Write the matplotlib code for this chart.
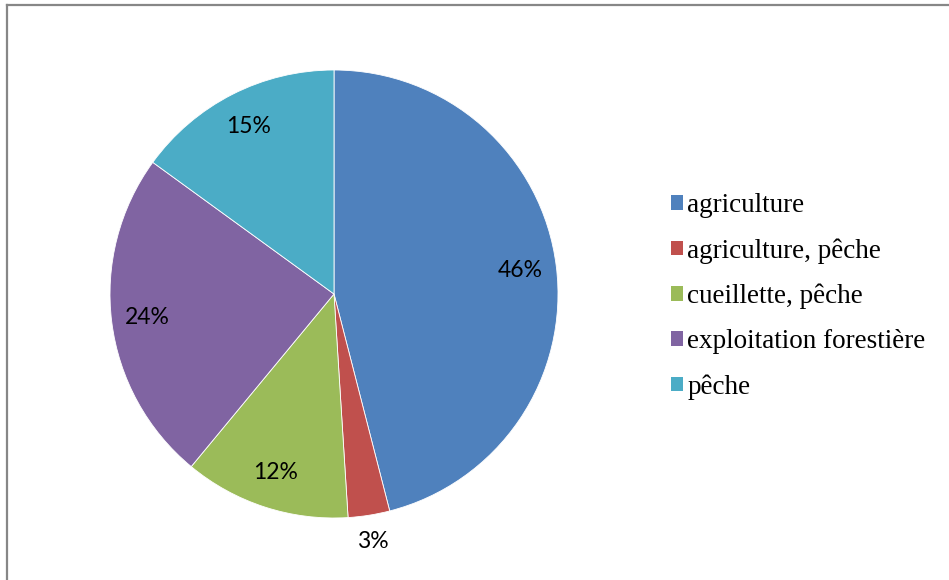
import matplotlib
matplotlib.use("Agg")
import matplotlib.pyplot as plt
from matplotlib.patches import Patch
from matplotlib.lines import Line2D
import numpy as np

categories = ["agriculture", "agriculture, pêche", "cueillette, pêche",
              "exploitation forestière", "pêche"]
shares = [46, 3, 12, 24, 15]
colors = ["#4F81BD", "#C0504D", "#9BBB59", "#8064A2", "#4BACC6"]

W, H = 949, 580
fig = plt.figure(figsize=(W / 100, H / 100), dpi=100)

# chart frame: only top and left edges fall inside the image
fig.add_artist(Line2D([6.5 / W, 6.5 / W], [0, 1 - 4.5 / H], transform=fig.transFigure,
                      color="#878787", lw=1.6))
fig.add_artist(Line2D([6.5 / W, 1], [1 - 4.5 / H, 1 - 4.5 / H], transform=fig.transFigure,
                      color="#878787", lw=1.6))

cx, cy, r = 334, 294, 224
ax = fig.add_axes([(cx - r) / W, (H - cy - r) / H, 2 * r / W, 2 * r / H])
wedges, _ = ax.pie(shares, colors=colors, startangle=90, counterclock=False,
                   radius=1, wedgeprops=dict(edgecolor="white", linewidth=0.6))
ax.set_xlim(-1, 1)
ax.set_ylim(-1, 1)
ax.set_aspect("equal")
ax.axis("off")

# percentage labels, small slices pushed outside
for w, v in zip(wedges, shares):
    mid = np.deg2rad((w.theta1 + w.theta2) / 2)
    d = 1.12 if v < 5 else 0.84
    ax.text(d * np.cos(mid), d * np.sin(mid), f"{v}%", ha="center", va="center",
            fontsize=16.5, family="Lato", color="black")

handles = [Patch(facecolor=c, edgecolor="none") for c in colors]
fig.legend(handles, categories, loc="upper left", bbox_to_anchor=(671 / W, 1 - 193 / H),
           frameon=False, prop=dict(family="Liberation Serif", size=19.5),
           handlelength=0.45, handleheight=0.45, handletextpad=0.15,
           labelspacing=0.74, borderpad=0, borderaxespad=0)

fig.savefig("out.png", dpi=100, facecolor="white")
